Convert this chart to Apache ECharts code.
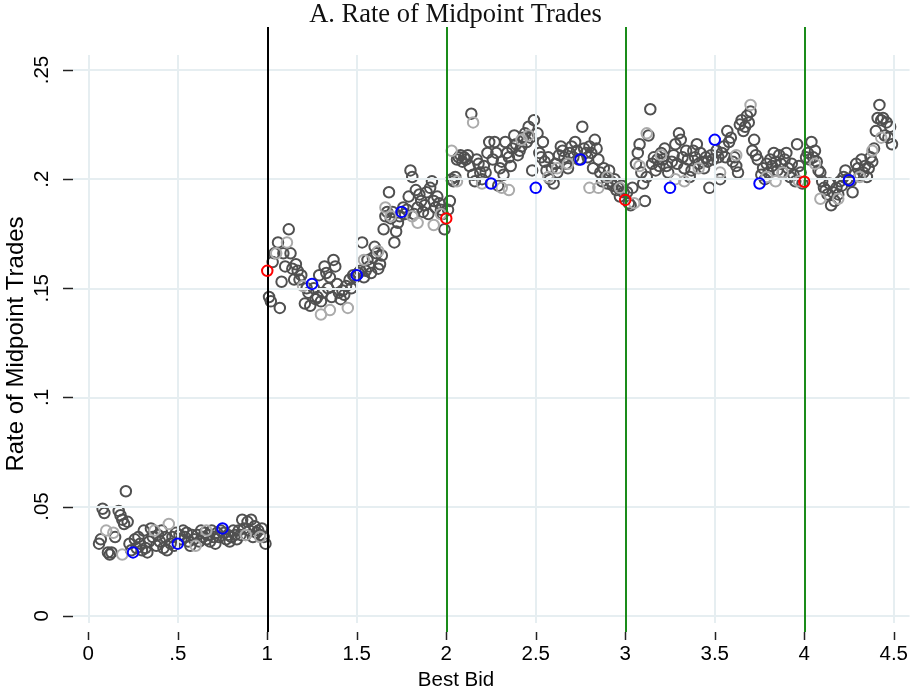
<!DOCTYPE html>
<html>
<head>
<meta charset="utf-8">
<script src="https://cdn.jsdelivr.net/npm/echarts@6/dist/echarts.min.js"></script>
<style>html,body{margin:0;padding:0;background:#fff}#chart{width:911px;height:691px}</style>
</head>
<body>
<div id="chart"></div>
<script>
// ---- data (x = best bid, y = rate of midpoint trades) ----
const darkPoints = [
[0.06,0.033],[0.07,0.035],[0.08,0.049],[0.09,0.047],[0.11,0.029],[0.12,0.028],[0.13,0.029],[0.15,0.036],[0.17,0.048],[0.18,0.046],
[0.19,0.044],[0.20,0.042],[0.21,0.057],[0.22,0.043],[0.23,0.033],[0.24,0.030],[0.26,0.035],[0.27,0.031],[0.28,0.036],[0.29,0.033],
[0.30,0.030],[0.31,0.039],[0.32,0.031],[0.33,0.029],[0.34,0.034],[0.35,0.040],[0.36,0.036],[0.38,0.032],[0.39,0.037],[0.40,0.034],
[0.41,0.039],[0.42,0.031],[0.43,0.036],[0.44,0.030],[0.46,0.033],[0.47,0.036],[0.48,0.032],[0.49,0.038],[0.51,0.037],[0.52,0.035],
[0.53,0.039],[0.54,0.036],[0.55,0.038],[0.56,0.034],[0.57,0.032],[0.58,0.037],[0.59,0.035],[0.61,0.037],[0.62,0.034],[0.63,0.039],
[0.64,0.036],[0.65,0.038],[0.66,0.035],[0.67,0.037],[0.68,0.034],[0.69,0.039],[0.70,0.036],[0.71,0.033],[0.72,0.038],[0.73,0.036],
[0.74,0.039],[0.76,0.038],[0.77,0.035],[0.78,0.037],[0.79,0.034],[0.80,0.036],[0.81,0.039],[0.82,0.037],[0.83,0.035],[0.84,0.039],
[0.85,0.037],[0.86,0.044],[0.87,0.040],[0.88,0.037],[0.89,0.043],[0.90,0.039],[0.91,0.044],[0.92,0.036],[0.93,0.041],[0.94,0.038],
[0.95,0.039],[0.96,0.037],[0.97,0.040],[0.98,0.036],[0.99,0.033],
[1.01,0.146],[1.02,0.144],[1.03,0.162],[1.04,0.166],[1.06,0.171],[1.07,0.141],[1.08,0.153],[1.09,0.166],[1.10,0.160],[1.12,0.177],
[1.13,0.166],[1.14,0.159],[1.15,0.154],[1.16,0.161],[1.17,0.158],[1.18,0.154],[1.19,0.156],[1.21,0.143],[1.22,0.150],[1.23,0.148],
[1.24,0.142],[1.26,0.150],[1.27,0.145],[1.28,0.146],[1.29,0.156],[1.30,0.144],[1.31,0.148],[1.32,0.160],[1.33,0.157],[1.34,0.150],
[1.35,0.155],[1.36,0.146],[1.37,0.163],[1.38,0.160],[1.39,0.152],[1.40,0.148],[1.41,0.145],[1.42,0.149],[1.43,0.147],[1.44,0.151],
[1.46,0.154],[1.47,0.150],[1.48,0.156],[1.49,0.155],[1.51,0.157],[1.52,0.158],[1.53,0.171],[1.54,0.155],[1.55,0.158],[1.56,0.163],
[1.57,0.160],[1.58,0.157],[1.59,0.164],[1.60,0.169],[1.61,0.166],[1.62,0.159],[1.63,0.161],[1.64,0.165],[1.65,0.177],[1.66,0.183],
[1.67,0.185],[1.68,0.194],[1.69,0.182],[1.70,0.185],[1.71,0.171],[1.72,0.176],[1.73,0.180],[1.74,0.183],[1.76,0.187],[1.77,0.184],
[1.78,0.186],[1.79,0.192],[1.80,0.204],[1.81,0.201],[1.82,0.184],[1.83,0.195],[1.84,0.187],[1.85,0.193],[1.86,0.190],[1.87,0.185],
[1.88,0.188],[1.89,0.194],[1.90,0.184],[1.91,0.196],[1.92,0.199],[1.93,0.190],[1.94,0.187],[1.95,0.192],[1.96,0.189],[1.97,0.186],
[1.98,0.184],[1.99,0.177],
[2.01,0.186],[2.02,0.190],[2.03,0.200],[2.04,0.199],[2.05,0.201],[2.06,0.209],[2.07,0.210],[2.08,0.211],[2.09,0.208],[2.10,0.210],
[2.11,0.209],[2.12,0.211],[2.13,0.206],[2.14,0.230],[2.15,0.202],[2.16,0.199],[2.17,0.209],[2.18,0.207],[2.19,0.203],[2.20,0.200],
[2.21,0.206],[2.22,0.203],[2.23,0.212],[2.24,0.217],[2.26,0.209],[2.27,0.217],[2.28,0.212],[2.29,0.197],[2.30,0.205],[2.31,0.208],
[2.32,0.202],[2.33,0.217],[2.34,0.212],[2.35,0.210],[2.36,0.206],[2.37,0.214],[2.38,0.220],[2.39,0.216],[2.40,0.211],[2.41,0.213],
[2.42,0.215],[2.43,0.219],[2.44,0.221],[2.45,0.217],[2.46,0.224],[2.47,0.219],[2.48,0.204],[2.49,0.227],[2.51,0.221],[2.52,0.212],
[2.53,0.210],[2.54,0.217],[2.55,0.208],[2.56,0.204],[2.57,0.210],[2.58,0.200],[2.59,0.205],[2.60,0.198],[2.61,0.207],[2.62,0.203],
[2.63,0.211],[2.64,0.215],[2.65,0.213],[2.66,0.210],[2.67,0.207],[2.68,0.205],[2.69,0.212],[2.70,0.215],[2.71,0.210],[2.72,0.217],
[2.73,0.213],[2.74,0.209],[2.76,0.224],[2.77,0.214],[2.78,0.212],[2.79,0.210],[2.80,0.215],[2.81,0.212],[2.82,0.205],[2.83,0.218],
[2.84,0.214],[2.85,0.209],[2.86,0.203],[2.87,0.199],[2.88,0.205],[2.89,0.201],[2.90,0.198],[2.91,0.204],[2.92,0.199],[2.93,0.197],
[2.94,0.200],[2.95,0.195],[2.96,0.196],[2.97,0.192],[2.98,0.197],[2.99,0.194],
[3.01,0.194],[3.02,0.189],[3.03,0.188],[3.04,0.196],[3.06,0.207],[3.07,0.212],[3.08,0.216],[3.09,0.203],[3.10,0.198],[3.11,0.190],
[3.12,0.201],[3.13,0.220],[3.14,0.232],[3.15,0.207],[3.16,0.210],[3.17,0.204],[3.18,0.209],[3.19,0.206],[3.20,0.212],[3.21,0.209],
[3.22,0.214],[3.23,0.206],[3.24,0.203],[3.26,0.208],[3.27,0.211],[3.28,0.216],[3.29,0.207],[3.30,0.221],[3.31,0.218],[3.32,0.210],
[3.33,0.205],[3.34,0.213],[3.35,0.209],[3.36,0.201],[3.37,0.204],[3.38,0.213],[3.39,0.210],[3.40,0.216],[3.41,0.207],[3.42,0.212],
[3.43,0.208],[3.44,0.205],[3.45,0.210],[3.46,0.208],[3.47,0.196],[3.48,0.211],[3.49,0.209],[3.51,0.213],[3.52,0.210],[3.53,0.200],
[3.54,0.212],[3.55,0.215],[3.56,0.210],[3.57,0.222],[3.58,0.217],[3.59,0.219],[3.60,0.208],[3.61,0.210],[3.62,0.206],[3.63,0.203],
[3.64,0.225],[3.65,0.227],[3.66,0.222],[3.67,0.224],[3.68,0.229],[3.69,0.226],[3.70,0.231],[3.71,0.213],[3.72,0.218],[3.73,0.211],
[3.74,0.209],[3.76,0.202],[3.77,0.205],[3.78,0.200],[3.79,0.207],[3.80,0.203],[3.81,0.209],[3.82,0.206],[3.83,0.212],[3.84,0.208],
[3.85,0.204],[3.86,0.211],[3.87,0.207],[3.88,0.203],[3.89,0.209],[3.90,0.212],[3.91,0.205],[3.92,0.201],[3.93,0.207],[3.94,0.202],
[3.95,0.199],[3.96,0.216],[3.97,0.206],[3.98,0.203],[3.99,0.198],
[4.01,0.210],[4.02,0.212],[4.03,0.209],[4.04,0.217],[4.05,0.210],[4.06,0.213],[4.07,0.208],[4.08,0.204],[4.09,0.203],[4.10,0.199],
[4.11,0.196],[4.12,0.195],[4.13,0.193],[4.14,0.198],[4.15,0.188],[4.16,0.194],[4.17,0.190],[4.18,0.196],[4.19,0.193],[4.20,0.199],
[4.21,0.197],[4.22,0.201],[4.23,0.204],[4.24,0.200],[4.26,0.199],[4.27,0.194],[4.28,0.202],[4.29,0.207],[4.30,0.205],[4.31,0.202],
[4.32,0.209],[4.33,0.203],[4.34,0.206],[4.35,0.201],[4.36,0.205],[4.37,0.210],[4.38,0.208],[4.39,0.214],[4.40,0.222],[4.41,0.228],
[4.42,0.234],[4.43,0.227],[4.44,0.228],[4.45,0.220],[4.46,0.226],[4.47,0.219],[4.48,0.224],[4.49,0.216]
];
const lightPoints = [
[0.10,0.039],[0.14,0.038],[0.19,0.028],[0.37,0.039],[0.45,0.042],[0.60,0.032],[0.66,0.039],[0.88,0.037],[0.96,0.036],
[1.05,0.166],[1.11,0.171],[1.20,0.151],[1.30,0.138],[1.35,0.140],[1.45,0.141],[1.54,0.163],[1.62,0.167],[1.66,0.187],[1.69,0.183],
[1.81,0.183],[1.84,0.180],[1.93,0.179],[1.97,0.184],
[2.03,0.213],[2.06,0.199],[2.15,0.226],[2.20,0.198],[2.31,0.196],[2.35,0.195],[2.42,0.218],[2.46,0.220],[2.57,0.201],[2.62,0.205],
[2.68,0.207],[2.80,0.196],[2.85,0.196],[2.90,0.201],[2.97,0.196],
[3.05,0.189],[3.08,0.206],[3.12,0.221],[3.20,0.211],[3.28,0.200],[3.33,0.199],[3.41,0.205],[3.53,0.203],[3.62,0.211],[3.70,0.234],
[3.79,0.201],[3.84,0.199],[3.88,0.203],[3.97,0.199],
[4.06,0.207],[4.09,0.191],[4.19,0.191],[4.31,0.201],[4.38,0.213],[4.43,0.219]
];
const bluePoints = [
[0.25,0.029],[0.50,0.033],[0.75,0.040],[1.25,0.152],[1.50,0.156],[1.75,0.185],
[2.25,0.198],[2.50,0.196],[2.75,0.209],[3.25,0.196],[3.50,0.218],[3.75,0.198],[4.25,0.1995]
];
const redPoints = [[1.00,0.158],[2.00,0.182],[3.00,0.1905],[4.00,0.1988]];
const xTicks = [0, 0.5, 1, 1.5, 2, 2.5, 3, 3.5, 4, 4.5];
const yTicks = [0, 0.05, 0.1, 0.15, 0.2, 0.25];
const blackLineX = [1];
const greenLineX = [2, 3, 4];

// ---- layout ----
const X_MIN = -0.0853, X_MAX = 4.5884;
const Y_MIN = -0.00747, Y_MAX = 0.2697;
const GRID_Y_LO = -0.00334, GRID_Y_HI = 0.2569;
const gridColor = '#e6eef1';
const fmt = v => (v === 0 ? '0' : String(+v.toFixed(2)).replace(/^0\./, '.'));

const gridLines = [];
xTicks.forEach(x => gridLines.push([{coord:[x, GRID_Y_LO]}, {coord:[x, GRID_Y_HI]}]));
yTicks.forEach(y => gridLines.push([{coord:[X_MIN, y]}, {coord:[X_MAX, y]}]));
const refLines = [];
blackLineX.forEach(x => refLines.push([{coord:[x, Y_MIN], lineStyle:{color:'#000'}}, {coord:[x, Y_MAX]}]));
greenLineX.forEach(x => refLines.push([{coord:[x, Y_MIN], lineStyle:{color:'#1a8c1a'}}, {coord:[x, Y_MAX]}]));

function scatter(name, data, color, z) {
  return {
    name, type:'scatter', data, z,
    symbol:'circle', symbolSize:10.5,
    itemStyle:{color:'rgba(0,0,0,0)', borderColor:color, borderWidth:2, opacity:1},
    emphasis:{disabled:true}, silent:true, animation:false
  };
}

const titleGraphics = [
  {type:'text', x:16, y:344, rotation:Math.PI/2,
    style:{text:'Rate of Midpoint Trades', fill:'#000', font:'24px "Liberation Sans"', textAlign:'center', textVerticalAlign:'middle'}},
  {type:'text', x:456, y:680,
    style:{text:'Best Bid', fill:'#000', font:'20.5px "Liberation Sans"', textAlign:'center', textVerticalAlign:'middle'}}
];

const chart = echarts.init(document.getElementById('chart'), null, {renderer:'canvas'});
chart.setOption({
  backgroundColor:'#fff',
  animation:false,
  title:{text:'A. Rate of Midpoint Trades', left:'center', top:-3,
    textStyle:{fontFamily:'Liberation Serif', fontSize:26.5, fontWeight:'normal', color:'#111'}},
  grid:{left:73, right:0, top:27, bottom:59},
  xAxis:{type:'value', min:X_MIN, max:X_MAX,
    axisLine:{show:false}, splitLine:{show:false}, axisTick:{show:false},
    axisLabel:{customValues:xTicks, formatter:fmt, margin:12, color:'#000', fontSize:20.5, fontFamily:'Liberation Sans'}},
  yAxis:{type:'value', min:Y_MIN, max:Y_MAX,
    axisLine:{show:false}, splitLine:{show:false}, axisTick:{show:false},
    axisLabel:{customValues:yTicks, formatter:fmt, rotate:90, margin:20, color:'#000', fontSize:20.5, fontFamily:'Liberation Sans'}},
  graphic:titleGraphics,
  series:[
    {type:'line', data:[], z:1, silent:true,
      markLine:{silent:true, symbol:'none', label:{show:false}, animation:false,
        lineStyle:{color:gridColor, width:2, type:'solid'}, data:gridLines}},
    {type:'line', data:[], z:2, silent:true,
      markLine:{silent:true, symbol:'none', label:{show:false}, animation:false,
        lineStyle:{width:2, type:'solid'}, data:refLines}},
    scatter('dark', darkPoints, '#505050', 3),
    scatter('light', lightPoints, '#ababab', 4),
    scatter('blue', bluePoints, '#0000ff', 5),
    scatter('red', redPoints, '#ff0000', 6)
  ]
});

// tick marks placed through the axes' own scales
const gridRect = chart.getModel().getComponent('grid', 0).coordinateSystem.getRect();
const tickStyle = {stroke:'#222', lineWidth:1.5};
const tickGraphics = [];
xTicks.forEach(v => {
  const px = Math.round(chart.convertToPixel({xAxisIndex:0}, v)) + 0.5;
  const y0 = gridRect.y + gridRect.height;
  tickGraphics.push({type:'line', silent:true, shape:{x1:px, y1:y0, x2:px, y2:y0 + 8}, style:tickStyle});
});
yTicks.forEach(v => {
  const py = Math.round(chart.convertToPixel({yAxisIndex:0}, v)) + 0.5;
  const x0 = gridRect.x;
  tickGraphics.push({type:'line', silent:true, shape:{x1:x0 - 10, y1:py, x2:x0, y2:py}, style:tickStyle});
});
chart.setOption({graphic: titleGraphics.concat(tickGraphics)});
</script>
</body>
</html>
